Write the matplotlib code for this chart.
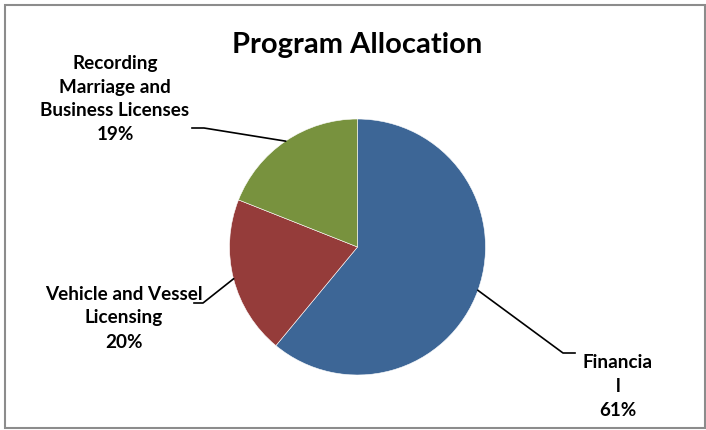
"""Pie chart of program allocation with leader-line labels."""

import numpy as np
import matplotlib
matplotlib.use("Agg")
import matplotlib.pyplot as plt
from matplotlib.patches import Rectangle
from matplotlib.lines import Line2D

# ── data ──────────────────────────────────────────────────────────────────────
categories = ["Financia\nl", "Vehicle and Vessel\nLicensing", "Recording\nMarriage and\nBusiness Licenses"]
shares = [61, 20, 19]
colors = ["#3D6696", "#953C3A", "#78923E"]
title = "Program Allocation"

W, H, DPI = 706, 430, 100
plt.rcParams["font.family"] = ["Lato", "DejaVu Sans"]

fig = plt.figure(figsize=(W / DPI, H / DPI), dpi=DPI)


def px(x, y):
    """Figure fraction from pixel coords measured from the top-left corner."""
    return x / W, 1 - y / H


# pie occupies a square box centred at (357.5, 247) px, radius 128 px
cx, cy, r = 357.5, 247, 128
ax = fig.add_axes([(cx - r) / W, (H - cy - r) / H, 2 * r / W, 2 * r / H])
wedges, _ = ax.pie(shares, colors=colors, startangle=90, counterclock=False,
                   radius=1.0, wedgeprops=dict(edgecolor="white", linewidth=0.4))
ax.set_xlim(-1, 1)
ax.set_ylim(-1, 1)
ax.set_aspect("equal")
ax.axis("off")

# label layout: (text centre, elbow, line end) in pixels
layout = [
    dict(text=(618, 386), elbow=(563, 353), end=(575, 353)),
    dict(text=(124, 318), elbow=(203, 303), end=(194, 303)),
    dict(text=(115, 99), elbow=(204, 128), end=(192, 128)),
]

ax.apply_aspect()
to_fig = fig.transFigure.inverted()
for wedge, name, share, lay in zip(wedges, categories, shares, layout):
    mid = np.deg2rad((wedge.theta1 + wedge.theta2) / 2)
    edge = ax.transData.transform((wedge.r * np.cos(mid), wedge.r * np.sin(mid)))
    ex, ey = to_fig.transform(edge)
    bx, by = px(*lay["elbow"])
    tx, ty = px(*lay["end"])
    fig.add_artist(Line2D([ex, bx, tx], [ey, by, ty], color="black", lw=1.2,
                          transform=fig.transFigure))
    fig.text(*px(*lay["text"]), f"{name}\n{share}%", ha="center", va="center",
             ma="center", fontsize=13.6, fontweight="bold", linespacing=1.5)

fig.text(*px(357, 45), title, ha="center", va="center", fontsize=21, fontweight="bold")

# chart frame
fig.add_artist(Rectangle(px(4.5, 427.5), 700.5 / W, 423 / H, transform=fig.transFigure,
                         fill=False, edgecolor="#8C8C8C", lw=1.5))

fig.savefig("out.png", dpi=DPI)
